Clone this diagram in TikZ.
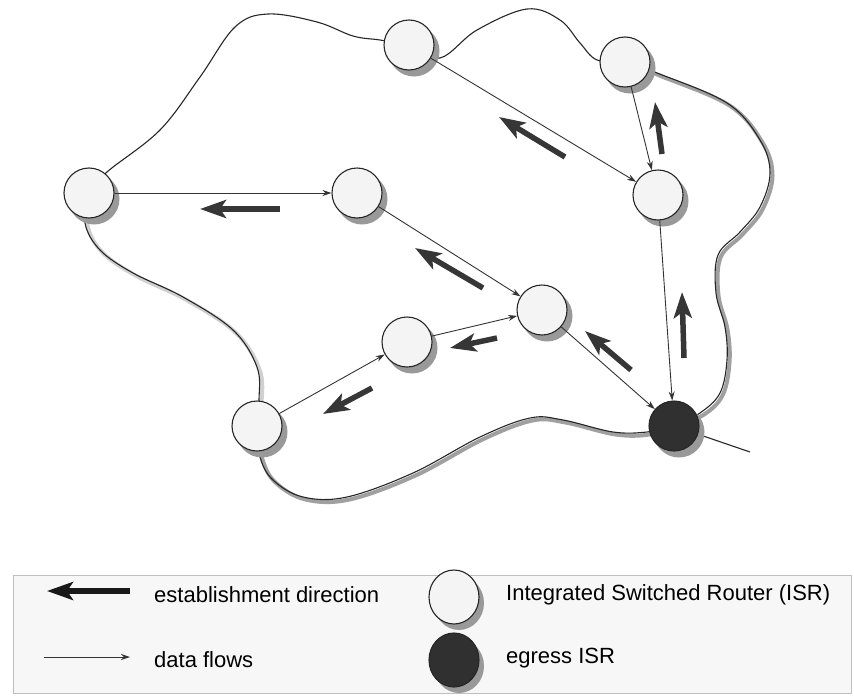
\documentclass[tikz,border=0pt]{standalone}
\usepackage{fontspec}
\setmainfont{Liberation Sans}
\usetikzlibrary{arrows.meta,shapes.geometric}
\definecolor{estc}{HTML}{363636}
\definecolor{nodefill}{HTML}{F4F4F4}
\definecolor{shadowc}{HTML}{A0A0A0}
\definecolor{nshadowc}{HTML}{999999}
\definecolor{egressc}{HTML}{303030}
\definecolor{legfill}{HTML}{F7F7F7}
\pgfdeclarelayer{bg}
\pgfsetlayers{bg,main}
\begin{document}
\begin{tikzpicture}[x=1pt,y=-1pt,
 isr/.style={circle,draw=black!85,line width=1.1pt,fill=nodefill,minimum size=50pt,inner sep=0pt},
 egress/.style={isr,fill=egressc},
 flow/.style={draw=black!80,line width=0.9pt,-{Stealth[length=9pt,width=6pt]}},
 estab/.style={draw=estc,line width=5.5pt,-{Stealth[length=26pt,width=18pt,inset=6pt]}},
 boundary/.style={draw=black!85,line width=1.1pt},
 bshadow/.style={draw=shadowc,line width=4pt},
 lbl/.style={anchor=base west,font=\fontsize{22}{26}\selectfont,inner sep=0pt}
]
\useasboundingbox (0,0) rectangle (854,696);

% routers
\node[isr] (A) at (89,193) {};
\node[isr] (B) at (357,193) {};
\node[isr] (C) at (409,45) {};
\node[isr] (D) at (625,62) {};
\node[isr] (E) at (658,195) {};
\node[isr] (F) at (542,310) {};
\node[isr] (G) at (407,342) {};
\node[isr] (H) at (257,426) {};
\node[egress] (I) at (674,426) {};
\coordinate (tail) at (750,452);

\begin{pgfonlayer}{bg}
 % boundary shadows
 \begin{scope}[shift={(2.5,2.5)}]
  \draw[bshadow] plot[smooth,tension=0.6] coordinates {(D.center) (657,73) (727,103) (760,140) (770,173) (760,207) (740,232) (718,255) (716,293) (725,327) (727,360) (720,393) (700,413) (I.center)};
  \draw[bshadow] plot[smooth,tension=0.6] coordinates {(I.center) (647,432) (613,432) (563,420) (530,418) (480,437) (413,473) (347,497) (303,497) (273,480) (260,457) (H.center)};
  \draw[bshadow,shadowc!50] plot[smooth,tension=0.6] coordinates {(H.center) (259,400) (257,367) (233,330) (183,297) (133,273) (100,250) (85,223) (A.center)};
 \end{scope}
 % boundary
 \draw[boundary] plot[smooth,tension=0.6] coordinates {(A.center) (107,172) (160,130) (200,77) (235,27) (268,14) (317,22) (353,36) (380,40) (C.center)};
 \draw[boundary] plot[smooth,tension=0.6] coordinates {(C.center) (440,58) (477,30) (527,9) (560,20) (580,43) (597,60) (D.center)};
 \draw[boundary] plot[smooth,tension=0.6] coordinates {(D.center) (657,73) (727,103) (760,140) (770,173) (760,207) (740,232) (718,255) (716,293) (725,327) (727,360) (720,393) (700,413) (I.center)};
 \draw[boundary] plot[smooth,tension=0.6] coordinates {(I.center) (647,432) (613,432) (563,420) (530,418) (480,437) (413,473) (347,497) (303,497) (273,480) (260,457) (H.center)};
 \draw[boundary] plot[smooth,tension=0.6] coordinates {(H.center) (259,400) (257,367) (233,330) (183,297) (133,273) (100,250) (85,223) (A.center)};
 \draw[boundary] (I.center) -- (tail);
 % node shadows
 \foreach \n in {A,B,C,D,E,F,G,H,I}
  \fill[nshadowc] ([shift={(5,6)}]\n.center) circle (25.5);
\end{pgfonlayer}

% data flows
\draw[flow] (A) -- (B);
\draw[flow] (B) -- (F);
\draw[flow] (C) -- (E);
\draw[flow] (D) -- (E);
\draw[flow] (E) -- (I);
\draw[flow] (F) -- (I);
\draw[flow] (G) -- (F);
\draw[flow] (H) -- (G);

% establishment direction
\draw[estab] (280,209) -- (200,209);
\draw[estab] (565,157) -- (499,117);
\draw[estab] (662,154) -- (655,102);
\draw[estab] (483,288) -- (415,248);
\draw[estab] (497,338) -- (450,348);
\draw[estab] (372,388) -- (323,414);
\draw[estab] (631,370) -- (585,331);
\draw[estab] (684,358) -- (682,292);

% legend
\draw[draw=black!25,fill=legfill,line width=1pt] (13,575) rectangle (851,693);
\draw[estab,draw=black!90] (130,591) -- (47,591);
\draw[flow] (44,657) -- (130,657);
\fill[nshadowc] (459,603) ellipse (25 and 27);
\node[isr,ellipse,minimum width=50pt,minimum height=54pt] (L1) at (454,597) {};
\fill[nshadowc] (459,666) ellipse (25 and 27);
\node[egress,ellipse,minimum width=50pt,minimum height=54pt] (L2) at (454,660) {};
\node[lbl] (t1) at (154,602) {establishment direction};
\node[lbl] (t2) at (154,667) {data flows};
\node[lbl] (t3) at (506,600) {Integrated Switched Router (ISR)};
\node[lbl] (t4) at (506,663) {egress ISR};
\end{tikzpicture}
\end{document}
